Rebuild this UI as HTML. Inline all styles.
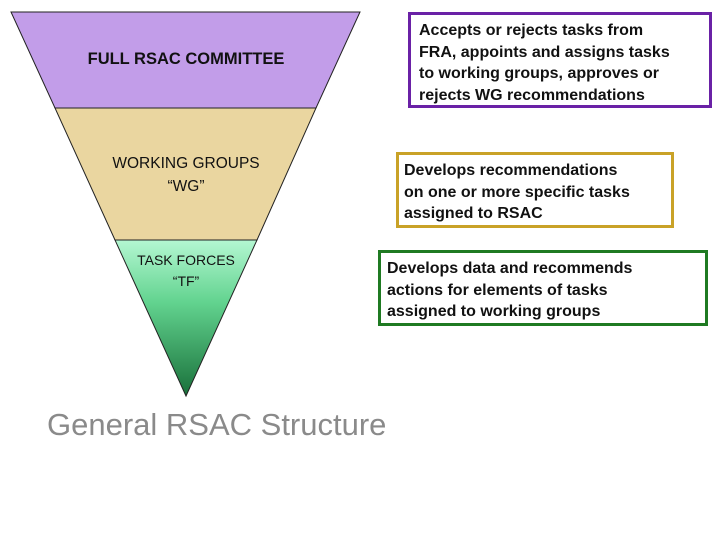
<!DOCTYPE html>
<html><head><style>
body{margin:0;width:720px;height:540px;background:#fff;position:relative;overflow:hidden;font-family:"Liberation Sans",sans-serif}
.box{position:absolute;box-sizing:border-box;font-weight:bold;font-size:16px;line-height:21.5px;color:#111;background:#fff;white-space:nowrap}
.t{position:absolute;text-align:center;color:#111;white-space:nowrap}
</style></head><body>
<svg width="720" height="540" style="position:absolute;left:0;top:0">
<defs><linearGradient id="g" x1="0" y1="240" x2="0" y2="396" gradientUnits="userSpaceOnUse">
<stop offset="0" stop-color="#b4f7d2"/><stop offset="0.4" stop-color="#62d38f"/><stop offset="1" stop-color="#19703a"/></linearGradient></defs>
<polygon points="11,12 360,12 316,108 55,108" fill="#c29de9" stroke="#222" stroke-width="1"/>
<polygon points="55,108 316,108 257,240 115,240" fill="#ead6a0" stroke="#222" stroke-width="1"/>
<polygon points="115,240 257,240 186,396" fill="url(#g)" stroke="#222" stroke-width="1"/>
</svg>
<div class="t" style="left:36px;top:50px;width:300px;font-weight:bold;font-size:16.5px">FULL RSAC COMMITTEE</div>
<div class="t" style="left:86px;top:152px;width:200px;font-size:15.5px;line-height:23px">WORKING GROUPS<br>“WG”</div>
<div class="t" style="left:86px;top:250px;width:200px;font-size:14px;line-height:21px">TASK FORCES<br>“TF”</div>
<div style="position:absolute;left:47px;top:407px;font-size:31px;color:#8a8a8a;white-space:nowrap">General RSAC Structure</div>
<div class="box" style="left:408px;top:12px;width:304px;height:96px;border:3px solid #6a21a6;padding:5px 0 0 8px">Accepts or rejects tasks from<br>FRA, appoints and assigns tasks<br>to working groups, approves or<br>rejects WG recommendations</div>
<div class="box" style="left:396px;top:152px;width:278px;height:76px;border:3px solid #c9a227;padding:5px 0 0 5px">Develops recommendations<br>on one or more specific tasks<br>assigned to RSAC</div>
<div class="box" style="left:378px;top:250px;width:330px;height:76px;border:3px solid #1f7a22;padding:5px 0 0 6px">Develops data and recommends<br>actions for elements of tasks<br>assigned to working groups</div>
</body></html>
